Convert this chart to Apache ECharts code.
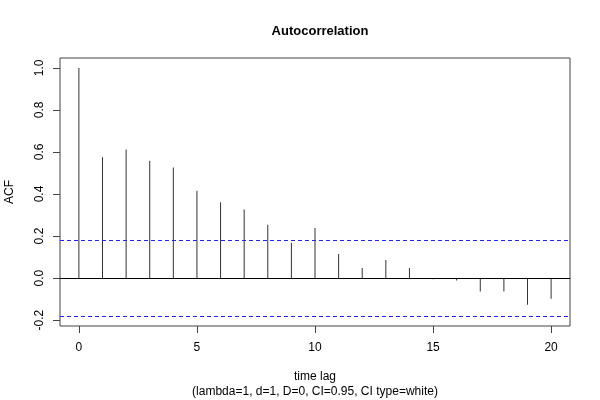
<!DOCTYPE html>
<html>
<head>
<meta charset="utf-8">
<script src="https://cdn.jsdelivr.net/npm/echarts@6/dist/echarts.min.js"></script>
<style>html,body{margin:0;padding:0;background:#fff}#c{width:600px;height:400px}</style>
</head>
<body>
<div id="c"></div>
<script>
const lags = [0,1,2,3,4,5,6,7,8,9,10,11,12,13,14,15,16,17,18,19,20];
const acf = [1.0,0.575,0.612,0.558,0.526,0.416,0.361,0.326,0.254,0.168,0.238,0.115,0.048,0.086,0.048,-0.006,-0.011,-0.064,-0.064,-0.127,-0.098];
const ciBound = 0.181;
const xTicks = [0,5,10,15,20];
const yTicks = [-0.2,0,0.2,0.4,0.6,0.8,1.0];
const titleText = 'Autocorrelation';
const xLabel = 'time lag';
const subLabel = '(lambda=1, d=1, D=0, CI=0.95, CI type=white)';
const yLabel = 'ACF';

const xMin = -0.8, xMax = 20.8, yMin = -0.228, yMax = 1.047;
const chart = echarts.init(document.getElementById('c'));
const font = 'Liberation Sans, Arial, sans-serif';
const ciStyle = {color: '#2222ff', type: [4, 3], width: 1, opacity: 1};
const TICK_LEN = 7;
chart.setOption({
  animation: false,
  backgroundColor: '#fff',
  title: {
    text: titleText, left: 315, top: 20, textAlign: 'center',
    textStyle: {fontFamily: font, fontSize: 13, fontWeight: 'bold', color: '#000'}
  },
  grid: {left: 60, right: 30, top: 58, bottom: 74, show: true, borderColor: '#444', borderWidth: 1,
    backgroundColor: 'transparent', containLabel: false, outerBoundsMode: 'none'},
  xAxis: {
    type: 'value', min: xMin, max: xMax, position: 'bottom',
    axisLine: {show: false, onZero: false},
    splitLine: {show: false},
    axisTick: {show: false},
    axisLabel: {customValues: xTicks, margin: 16, fontFamily: font, fontSize: 12, color: '#000'},
    name: xLabel + '\n' + subLabel, nameLocation: 'middle', nameGap: 43,
    nameTextStyle: {fontFamily: font, fontSize: 12, color: '#000', lineHeight: 15, verticalAlign: 'top'}
  },
  yAxis: {
    type: 'value', min: yMin, max: yMax, position: 'left',
    axisLine: {show: false, onZero: false},
    splitLine: {show: false},
    axisTick: {show: false},
    axisLabel: {customValues: yTicks, rotate: 90, margin: 14, fontFamily: font, fontSize: 12, color: '#000',
      formatter: v => v.toFixed(1)},
    name: yLabel, nameLocation: 'middle', nameRotate: 90, nameGap: 44,
    nameTextStyle: {fontFamily: font, fontSize: 12, color: '#000'}
  },
  series: [
    {
      type: 'bar',
      data: lags.map((l, i) => [l, acf[i]]),
      barWidth: 1,
      itemStyle: {color: '#333'},
      markLine: {
        symbol: 'none', silent: true, label: {show: false},
        data: [
          {yAxis: 0, lineStyle: {color: '#000', type: 'solid', width: 1}},
          {yAxis: ciBound, lineStyle: ciStyle},
          {yAxis: -ciBound, lineStyle: ciStyle}
        ]
      }
    }
  ]
});
// axis ticks positioned through the chart's own scales
const tickEls = [];
xTicks.forEach(v => {
  const p = chart.convertToPixel({gridIndex: 0}, [v, yMin]);
  const x = Math.round(p[0]) + 0.5;
  tickEls.push({type: 'line', silent: true, z: 100,
    shape: {x1: x, y1: p[1], x2: x, y2: p[1] + TICK_LEN},
    style: {stroke: '#444', lineWidth: 1}});
});
yTicks.forEach(v => {
  const p = chart.convertToPixel({gridIndex: 0}, [xMin, v]);
  const y = Math.round(p[1]) + 0.5;
  tickEls.push({type: 'line', silent: true, z: 100,
    shape: {x1: p[0] - TICK_LEN, y1: y, x2: p[0], y2: y},
    style: {stroke: '#444', lineWidth: 1}});
});
chart.setOption({graphic: tickEls});
</script>
</body>
</html>
